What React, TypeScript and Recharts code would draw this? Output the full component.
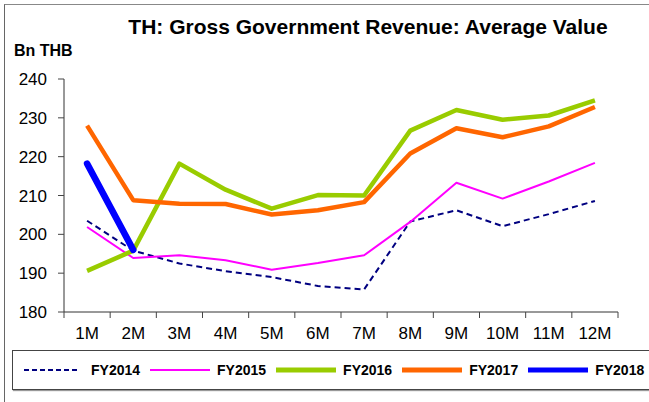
import { LineChart, Line, XAxis, YAxis, Legend } from "recharts";

const months = ["1M", "2M", "3M", "4M", "5M", "6M", "7M", "8M", "9M", "10M", "11M", "12M"];

const fy2014 = [203.5, 195.8, 192.5, 190.5, 189.0, 186.7, 185.8, 203.3, 206.2, 202.1, 205.2, 208.6];
const fy2015 = [201.9, 193.9, 194.6, 193.3, 190.9, 192.6, 194.6, 203.2, 213.3, 209.2, 213.6, 218.4];
const fy2016 = [190.6, 195.8, 218.2, 211.5, 206.6, 210.1, 210.0, 226.7, 232.0, 229.5, 230.6, 234.5];
const fy2017 = [228.0, 208.8, 207.9, 207.8, 205.1, 206.2, 208.3, 220.8, 227.3, 225.0, 227.8, 232.8];
const fy2018 = [218.2, 196.0];

const yTicks = [180, 190, 200, 210, 220, 230, 240];

const series = [
  { key: "FY2014", color: "#000080", width: 2, dash: "6 4" },
  { key: "FY2015", color: "#ff00ff", width: 2, dash: undefined },
  { key: "FY2016", color: "#99cc00", width: 4.5, dash: undefined },
  { key: "FY2017", color: "#ff6600", width: 4.5, dash: undefined },
  { key: "FY2018", color: "#0000ff", width: 6.5, dash: undefined },
];

const data = months.map((m, i) => ({
  month: m,
  FY2014: fy2014[i],
  FY2015: fy2015[i],
  FY2016: fy2016[i],
  FY2017: fy2017[i],
  FY2018: i < fy2018.length ? fy2018[i] : null,
}));

const FONT = "Arial, 'Liberation Sans', sans-serif";

// category labels centred, tick marks on the band edges
function MonthTick(props: any) {
  const { x, y, payload, index, visibleTicksCount, width } = props;
  const half = payload?.offset || width / visibleTicksCount / 2;
  const last = index === visibleTicksCount - 1;
  return (
    <g>
      <line x1={x - half} x2={x - half} y1={y} y2={y + 6} stroke="#444" />
      {last && <line x1={x + half} x2={x + half} y1={y} y2={y + 6} stroke="#444" />}
      <text x={x} y={y + 27} textAnchor="middle" fontSize={17} fontFamily={FONT} fill="#000">
        {payload.value}
      </text>
    </g>
  );
}

function LegendBox() {
  return (
    <div
      style={{
        display: "flex",
        alignItems: "center",
        height: 40,
        boxSizing: "border-box",
        border: "1px solid #444",
        boxShadow: "1px 1px 1px #999",
        paddingLeft: 11,
        background: "#fff",
      }}
    >
      {series.map((s) => (
        <div key={s.key} style={{ display: "flex", alignItems: "center", marginRight: 10 }}>
          <svg width={60} height={8} style={{ marginRight: 7 }}>
            <line
              x1={0}
              x2={s.key === "FY2014" ? 55 : 60}
              y1={4}
              y2={4}
              stroke={s.color}
              strokeWidth={s.key === "FY2015" ? 2 : s.key === "FY2014" ? 2 : 5}
              strokeDasharray={s.dash ? "5 3" : undefined}
              strokeLinecap={s.dash ? "butt" : "round"}
            />
          </svg>
          <span style={{ fontFamily: FONT, fontWeight: "bold", fontSize: 14, color: "#000" }}>{s.key}</span>
        </div>
      ))}
    </div>
  );
}

export default function App() {
  return (
    <div style={{ position: "absolute", left: 0, top: 0, width: 649, height: 402, overflow: "hidden", background: "#fff" }}>
      <div
        style={{
          position: "absolute",
          left: 4,
          top: 4,
          width: 700,
          height: 420,
          borderTop: "1px solid #888",
          borderLeft: "1px solid #666",
        }}
      />
      <div
        style={{
          position: "absolute",
          left: 0,
          width: 736,
          top: 16,
          textAlign: "center",
          fontFamily: FONT,
          fontWeight: "bold",
          fontSize: 21,
          lineHeight: 1,
          color: "#000",
        }}
      >
        TH: Gross Government Revenue: Average Value
      </div>
      <div
        style={{
          position: "absolute",
          left: 14,
          top: 43,
          fontFamily: FONT,
          fontWeight: "bold",
          fontSize: 16,
          lineHeight: 1,
          color: "#000",
        }}
      >
        Bn THB
      </div>
      <div style={{ position: "absolute", left: 0, top: 0 }}>
        <LineChart width={649} height={402} data={data} margin={{ top: 79, right: 31, bottom: 60, left: 0 }}>
          <XAxis
            dataKey="month"
            scale="band"
            height={30}
            tickLine={false}
            tickSize={0}
            tickMargin={0}
            interval={0}
            axisLine={{ stroke: "#333" }}
            tick={<MonthTick />}
          />
          <YAxis
            width={64}
            domain={[180, 240]}
            ticks={yTicks}
            interval={0}
            tickSize={6}
            tickMargin={11}
            axisLine={{ stroke: "#333" }}
            tickLine={{ stroke: "#444" }}
            tick={{ fontSize: 17, fontFamily: FONT, fill: "#000" }}
          />
          <Legend
            layout="horizontal"
            align="center"
            verticalAlign="middle"
            wrapperStyle={{ position: "absolute", left: 12, top: 350, width: 680 }}
            content={() => <LegendBox />}
          />
          {series.map((s) => (
            <Line
              key={s.key}
              type="linear"
              dataKey={s.key}
              stroke={s.color}
              strokeWidth={s.width}
              strokeDasharray={s.dash}
              dot={false}
              activeDot={false}
              isAnimationActive={false}
              strokeLinejoin="round"
              strokeLinecap={s.key === "FY2018" ? "round" : "butt"}
            />
          ))}
        </LineChart>
      </div>
    </div>
  );
}
